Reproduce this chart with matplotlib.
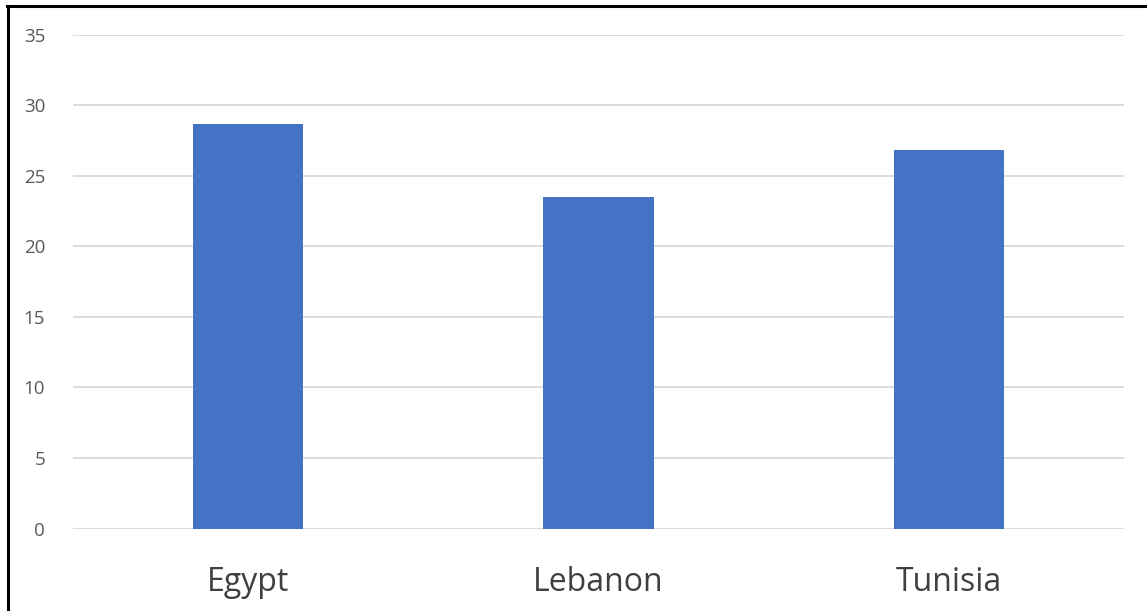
import matplotlib.pyplot as plt
from matplotlib.lines import Line2D

countries = ['Egypt', 'Lebanon', 'Tunisia']
values = [28.7, 23.5, 26.8]
yticks = [0, 5, 10, 15, 20, 25, 30, 35]

plt.rcParams['font.family'] = ['Open Sans', 'DejaVu Sans']

W, H = 1147, 611
fig = plt.figure(figsize=(W / 100, H / 100), dpi=100)
ax = fig.add_axes([73 / W, 1 - 528.5 / H, (1124 - 73) / W, (528.5 - 34.7) / H])

ax.bar(range(len(countries)), values, width=0.314, color='#4472C4', zorder=3)
ax.set_xlim(-0.5, len(countries) - 0.5)
ax.set_ylim(0, 35)
ax.set_yticks(yticks)
ax.set_xticks(range(len(countries)))
ax.set_xticklabels(countries, fontsize=23, color='#404040')
ax.tick_params(axis='x', length=0, pad=27)
ax.tick_params(axis='y', length=0, pad=20, labelsize=13.5, labelcolor='#595959')
ax.grid(axis='y', color='#D9D9D9', linewidth=1.3, zorder=0)
for s in ax.spines.values():
    s.set_visible(False)

# black frame at top and left, like the cropped screenshot
fig.add_artist(Line2D([7.5 / W, 1], [1 - 6 / H, 1 - 6 / H], color='black', linewidth=2.2))
fig.add_artist(Line2D([8 / W, 8 / W], [0, 1 - 6 / H], color='black', linewidth=2.2))

fig.savefig('out.png', dpi=100)
